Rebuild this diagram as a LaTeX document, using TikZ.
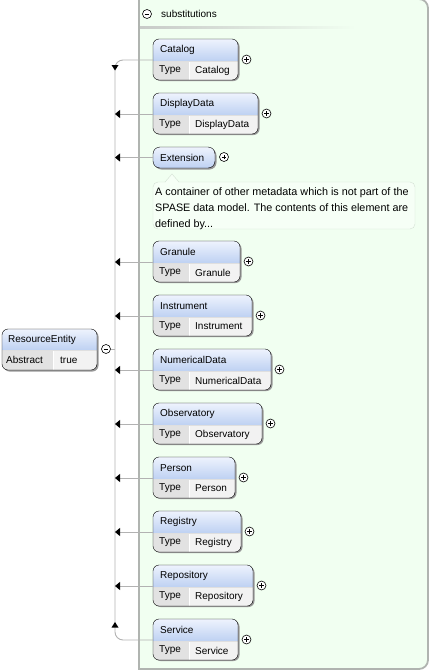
\documentclass[tikz,border=0pt]{standalone}
\usepackage{fontspec}
\setmainfont{Liberation Sans}
\usepackage{tikz}
\usetikzlibrary{arrows.meta,calc,positioning}
\definecolor{Wash}{RGB}{241,255,241}
\definecolor{Frame}{RGB}{176,180,176}
\definecolor{HeadTop}{RGB}{238,243,253}
\definecolor{HeadBot}{RGB}{190,209,242}
\definecolor{CellKey}{RGB}{226,226,226}
\definecolor{CellVal}{RGB}{242,242,242}
\definecolor{Wire}{RGB}{178,178,178}
\definecolor{NoteFill}{RGB}{246,255,246}
\definecolor{NoteLine}{RGB}{212,224,212}

\begin{document}
\begin{tikzpicture}[x=1pt,y=-1pt,font=\fontsize{10}{12}\selectfont,
  wire/.style={draw=Wire,line width=0.9pt},
  tipleft/.style={-{Triangle[length=5pt,width=8pt,color=black]}},
  txt/.style={anchor=west,inner sep=0pt},
  plusmark/.style={circle,draw,fill=white,inner sep=0pt,minimum size=9pt,line width=0.6pt,
    path picture={\draw[line width=0.7pt] ([xshift=-2.3pt]path picture bounding box.center) -- ([xshift=2.3pt]path picture bounding box.center)
      ([yshift=-2.3pt]path picture bounding box.center) -- ([yshift=2.3pt]path picture bounding box.center);}},
  minusmark/.style={circle,draw,fill=white,inner sep=0pt,minimum size=9pt,line width=0.6pt,
    path picture={\draw[line width=0.7pt] ([xshift=-2.3pt]path picture bounding box.center) -- ([xshift=2.3pt]path picture bounding box.center);}}]
\useasboundingbox (0,0) rectangle (430,672);
% substitutions group
\draw[Frame,line width=1.8pt,fill=Wash] (139,-1) -- (139,669) -- (419,669) arc[start angle=-90,end angle=0,radius=9pt]
  -- (428,8) arc[start angle=0,end angle=90,radius=9pt] -- cycle;
\shade[left color=Frame!70,right color=Wash] (140,26) rectangle (356,28);
\node[minusmark] (subst-minus) at (147,14) {};
\node[txt] (subst) at (161,14) {substitutions};
%
% substitution elements
\foreach \elem/\ytop/\xright in {Catalog/39/238, DisplayData/93/258, Granule/241/240, Instrument/295/252,
    NumericalData/349/271, Observatory/403/262, Person/457/235, Registry/511/241, Repository/565/253, Service/619/238}{
  \fill[gray!80,rounded corners=6pt] (154.5,\ytop+1.5) rectangle (\xright+1.5,\ytop+42);
  \begin{scope}
    \clip[rounded corners=6pt] (153,\ytop) rectangle (\xright,\ytop+41);
    \shade[top color=HeadTop,bottom color=HeadBot] (153,\ytop) rectangle (\xright,\ytop+22);
    \fill[CellKey] (153,\ytop+22) rectangle (189,\ytop+41);
    \fill[CellVal] (189,\ytop+22) rectangle (\xright,\ytop+41);
  \end{scope}
  \draw[white] (189,\ytop+22) -- (189,\ytop+41);
  \draw[gray!25] (153,\ytop+22) -- (\xright,\ytop+22);
  \draw[rounded corners=6pt] (153,\ytop) rectangle (\xright,\ytop+41);
  \node[txt] (\elem) at (160,\ytop+11) {\elem};
  \node[txt] (\elem-type) at (159,\ytop+31.5) {Type};
  \node[txt] (\elem-value) at (195,\ytop+31.5) {\elem};
  \node[plusmark] (\elem-plus) at (\xright+8.5,\ytop+20.5) {};
  \coordinate (\elem-in) at (153,\ytop+21);
}
%
% Extension and its note
\fill[gray!80,rounded corners=7pt] (154.5,148.5) rectangle (216.5,169.5);
\shadedraw[top color=HeadTop,bottom color=HeadBot,rounded corners=7pt] (153,147) rectangle (215,168);
\node[txt] (Extension) at (160,157.5) {Extension};
\node[plusmark] (Extension-plus) at (224,157) {};
\coordinate (Extension-in) at (153,157.5);
\draw[NoteLine,fill=NoteFill,rounded corners=5pt] (153,182) rectangle (415,229);
\fill[NoteFill] (165,183) -- (172,174) -- (179,183) -- cycle;
\draw[NoteLine] (165,182) -- (172,174) -- (179,182);
\node[anchor=north west,align=left,inner sep=0pt,font=\fontsize{10.8}{16}\selectfont] (Extension-note) at (155,187)
  {A container of other metadata which is not part of the\\SPASE data model. The contents of this element are\\defined by...};
%
% ResourceEntity
\fill[gray!80,rounded corners=6pt] (3.5,330.5) rectangle (98.5,371.5);
\begin{scope}
  \clip[rounded corners=6pt] (2,329) rectangle (97,370);
  \shade[top color=HeadTop,bottom color=HeadBot] (2,329) rectangle (97,350);
  \fill[CellKey] (2,350) rectangle (53,370);
  \fill[CellVal] (53,350) rectangle (97,370);
\end{scope}
\draw[white] (53,350) -- (53,370);
\draw[gray!25] (2,350) -- (97,350);
\draw[rounded corners=6pt] (2,329) rectangle (97,370);
\node[txt] (ResourceEntity) at (8,339.5) {ResourceEntity};
\node[txt] (ResourceEntity-key) at (6,360) {Abstract};
\node[txt] (ResourceEntity-value) at (60,360) {true};
\node[minusmark] (ResourceEntity-minus) at (106,349) {};
%
% connectors
\coordinate (bus) at (115,350);
\draw[wire,rounded corners=8pt] (Catalog-in) -| (bus) |- (Service-in);
\draw[wire] (ResourceEntity-minus.east) -- (ResourceEntity-minus.east -| bus);
\foreach \elem in {DisplayData,Extension,Granule,Instrument,NumericalData,Observatory,Person,Registry,Repository}
  \draw[wire,tipleft] (\elem-in) -- (\elem-in -| bus);
\fill (111.5,65) -- (118.5,65) -- (115,70.5) -- cycle;
\fill (111.5,627.5) -- (118.5,627.5) -- (115,622) -- cycle;
\end{tikzpicture}
\end{document}
